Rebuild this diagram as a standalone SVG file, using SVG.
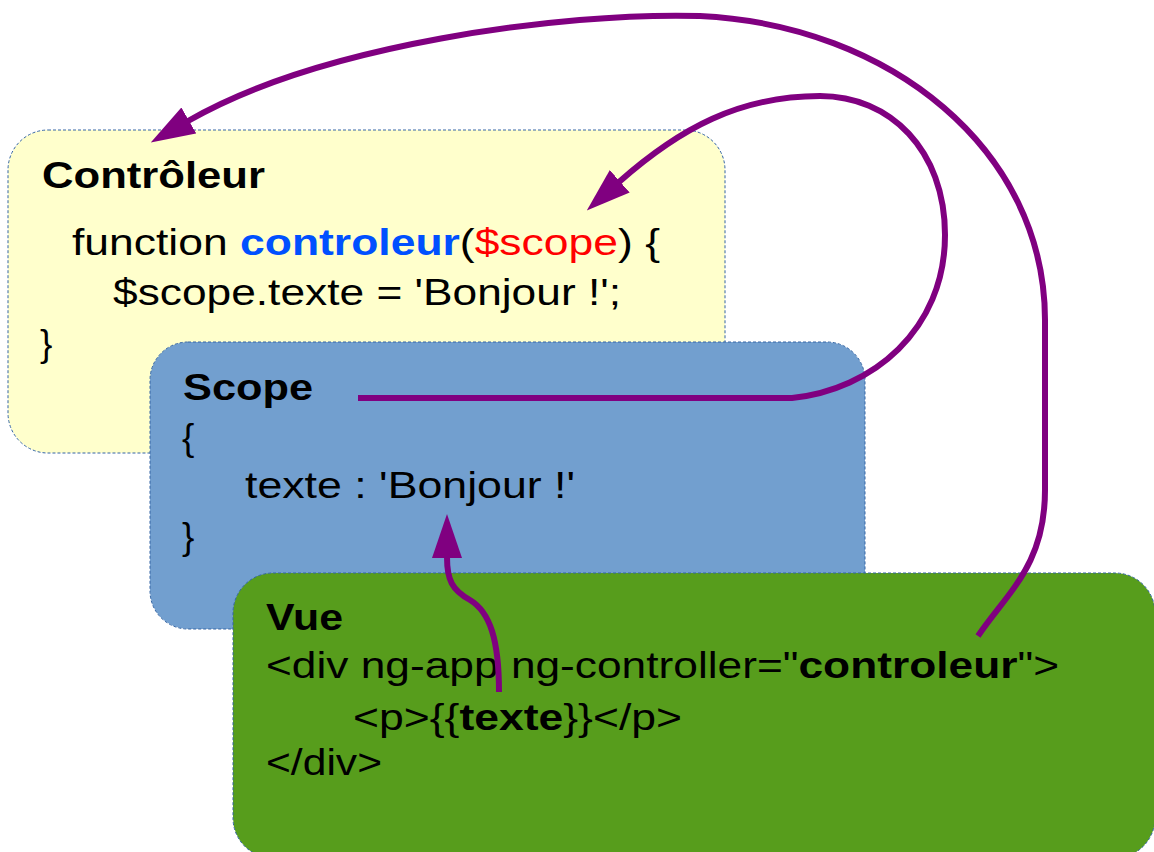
<svg xmlns="http://www.w3.org/2000/svg" width="1154" height="852" viewBox="0 0 1154 852">
<defs>
<style>
.box{stroke:#3465a4;stroke-width:1;stroke-dasharray:3 2}
.t{font-family:"Liberation Sans",Arial,sans-serif;font-size:37px;fill:#000}
.b{font-weight:bold}
.conn{fill:none;stroke:#800080;stroke-width:6;stroke-linecap:butt}
</style>
<marker id="ah" viewBox="0 0 44 30" refX="1" refY="15" markerWidth="44" markerHeight="30" markerUnits="userSpaceOnUse" orient="auto">
<path d="M0,0 L44,15 L0,30 z" fill="#800080"/>
</marker>
</defs>
<rect width="1154" height="852" fill="#fff"/>
<g id="controleur">
<rect class="box" x="8" y="130" width="717" height="323" rx="40" fill="#ffffcc"/>
<text class="t b" x="42" y="188" textLength="223" lengthAdjust="spacingAndGlyphs">Contrôleur</text>
<text class="t" x="72" y="255" textLength="588" lengthAdjust="spacingAndGlyphs">function <tspan class="b" fill="#0050ff">controleur</tspan>(<tspan fill="#ff0000">$scope</tspan>) {</text>
<text class="t" x="113" y="305" textLength="508" lengthAdjust="spacingAndGlyphs">$scope.texte = 'Bonjour !';</text>
<text class="t" x="40" y="356">}</text>
</g>
<g id="scope">
<rect class="box" x="150" y="342" width="715" height="287" rx="38" fill="#729fcf"/>
<text class="t b" x="183" y="400" textLength="130" lengthAdjust="spacingAndGlyphs">Scope</text>
<text class="t" x="182" y="450">{</text>
<text class="t" x="245" y="498" textLength="330" lengthAdjust="spacingAndGlyphs">texte : 'Bonjour !'</text>
<text class="t" x="182" y="549">}</text>
</g>
<g id="vue">
<rect class="box" x="233" y="573" width="922" height="285" rx="40" fill="#579d1c"/>
<text class="t b" x="266" y="630" textLength="77" lengthAdjust="spacingAndGlyphs">Vue</text>
<text class="t" x="266" y="678" textLength="793" lengthAdjust="spacingAndGlyphs">&lt;div ng-app ng-controller="<tspan class="b">controleur</tspan>"&gt;</text>
<text class="t" x="353" y="730" textLength="329" lengthAdjust="spacingAndGlyphs">&lt;p&gt;{{<tspan class="b">texte</tspan>}}&lt;/p&gt;</text>
<text class="t" x="266" y="775" textLength="116" lengthAdjust="spacingAndGlyphs">&lt;/div&gt;</text>
</g>
<g id="connectors">
<path class="conn" marker-end="url(#ah)" d="M978,636 C1008,592 1045,565 1045,490 L1045,320 C1045,150 890,25 700,16 C560,12 320,45 188,121"/>
<path class="conn" marker-end="url(#ah)" d="M358,398 L792,398 C872,390 945,330 945,235 C945,150 890,96 820,96 C740,96 680,128 619,182"/>
<path class="conn" marker-end="url(#ah)" d="M499,692 C499,640 490,612 470,600 C452,590 447,580 447,557"/>
</g>
</svg>
